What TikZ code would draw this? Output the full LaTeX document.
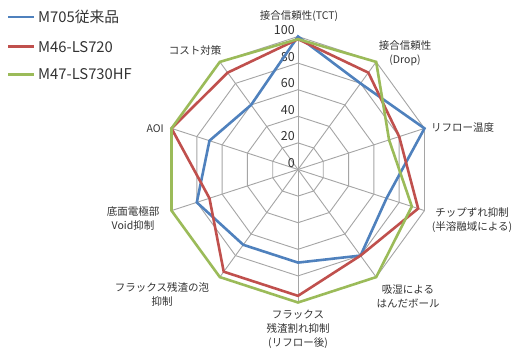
\documentclass[tikz,border=0pt]{standalone}
\usepackage{fontspec}
\setmainfont{Noto Sans CJK JP}
\usepackage{xcolor}
\usepackage{tikz}
\usetikzlibrary{calc}
\definecolor{serblue}{RGB}{79,129,189}
\definecolor{serred}{RGB}{192,80,77}
\definecolor{sergreen}{RGB}{155,187,89}
\definecolor{gridgray}{RGB}{165,165,165}
\definecolor{txtgray}{RGB}{51,51,51}

\begin{document}
\begin{tikzpicture}[x=1pt,y=1pt,
  grid/.style={draw=gridgray,line width=0.9pt},
  serA/.style={draw=serblue,line width=2.6pt},
  serB/.style={draw=serred,line width=2.6pt},
  serC/.style={draw=sergreen,line width=2.6pt},
  axlabel/.style={text=txtgray,font=\fontsize{10.5}{14}\selectfont,align=center,inner sep=0pt},
  ticklabel/.style={text=txtgray,font=\fontsize{12.5}{14}\selectfont,anchor=east,inner sep=0pt},
  legtext/.style={text=txtgray,font=\fontsize{14.8}{17}\selectfont,anchor=west,inner sep=0pt}]
\useasboundingbox (0,0) rectangle (515,350);
\fill[white] (0,0) rectangle (515,350);
% radar grid
\begin{scope}[shift={(298,180.5)}]
\foreach \r in {1,...,5}
  \draw[grid] (90:26.6*\r) \foreach \i in {1,...,9} {-- ({90-36*\i}:26.6*\r)} -- cycle;
\foreach \i in {0,...,9}
  \draw[grid] (0,0) -- ({90-36*\i}:133);
\foreach \t [count=\k from 0] in {0,20,40,60,80,100}
  \node[ticklabel] (tick\t) at (-3,26.6*\k+6.5) {\t};
% series
\foreach \v [count=\i from 0] in {100,80,100,70,80,70,70,80,70,60}
  \coordinate (a\i) at ({90-36*\i}:{1.33*\v});
\foreach \v [count=\i from 0] in {98,90,80,95,80,95,95,70,100,90}
  \coordinate (b\i) at ({90-36*\i}:{1.33*\v});
\foreach \v [count=\i from 0] in {98,100,72,90,100,100,100,100,100,100}
  \coordinate (c\i) at ({90-36*\i}:{1.33*\v});
\draw[serA] (a0) \foreach \i in {1,...,9} {-- (a\i)} -- cycle;
\draw[serB] (b0) \foreach \i in {1,...,9} {-- (b\i)} -- cycle;
\draw[serC] (c0) \foreach \i in {1,...,9} {-- (c\i)} -- cycle;
\end{scope}
% axis labels
\node[axlabel] (tct) at (299,334.3) {接合信頼性(TCT)};
\node[axlabel] (drop) at (405,296.7) {接合信頼性\\(Drop)};
\node[axlabel,anchor=west] (reflow) at (431,222.7) {リフロー温度};
\node[axlabel] (chip) at (472,130) {チップずれ抑制\\(半溶融域による)};
\node[axlabel] (ball) at (408,54) {吸湿による\\はんだボール};
\node[axlabel] (crack) at (298,20.5) {フラックス\\残渣割れ抑制\\(リフロー後)};
\node[axlabel] (foam) at (162,55.5) {フラックス残渣の泡\\抑制};
\node[axlabel] (void) at (133,131) {底面電極部\\Void抑制};
\node[axlabel,anchor=east] (aoi) at (164,221) {AOI};
\node[axlabel] (cost) at (195,300) {コスト対策};
% legend
\foreach \n/\s/\y in {m705/serA/332.7,ls720/serB/303.3,ls730/serC/275.5}
  \draw[\s,line width=2.4pt] (8,\y) -- (34,\y) coordinate (leg\n);
\node[legtext] (tm705) at ($(legm705)+(4,0)$) {M705従来品};
\node[legtext] (tls720) at ($(legls720)+(4,0)$) {M46-LS720};
\node[legtext] (tls730) at ($(legls730)+(4,0)$) {M47-LS730HF};
\end{tikzpicture}
\end{document}
